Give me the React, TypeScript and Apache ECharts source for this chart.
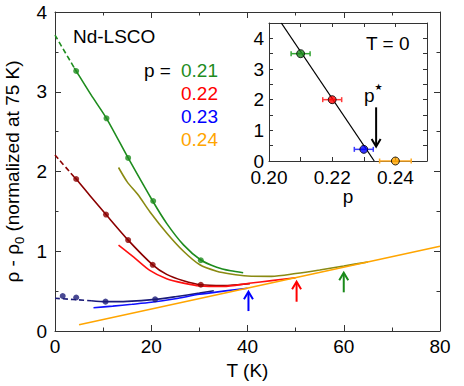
import React, { useEffect, useRef } from 'react';
import * as echarts from 'echarts';

const FONT = '"Liberation Sans", Arial, Helvetica, sans-serif';
const FS = 19;

// ---- main panel data: T (K) vs normalized rho - rho0 ----
const ext021: [number, number][] = [[0, 3.71], [4, 3.3]];
const fit021: [number, number][] = [[4, 3.3], [4.4, 3.26], [7.5, 2.96], [10.7, 2.667], [15.2, 2.17], [20.3, 1.63], [23.2, 1.35], [26.7, 1.08], [30.3, 0.89], [33.6, 0.8], [36.5, 0.755], [39.1, 0.73]];
const dots021: [number, number][] = [[4.4, 3.26], [10.7, 2.667], [15.2, 2.17], [20.4, 1.63], [30.3, 0.887]];
const alt021: [number, number][] = [[13.2, 2.05], [15, 1.87], [17.3, 1.705], [19.7, 1.496], [23.2, 1.23], [26.7, 1.0], [30.1, 0.83], [33.6, 0.75], [36.5, 0.715], [40, 0.69], [45, 0.685], [50, 0.72], [55, 0.765], [60, 0.815], [65, 0.866]];

const ext022: [number, number][] = [[0, 2.207], [4, 1.93]];
const fit022: [number, number][] = [[4, 1.93], [4.4, 1.906], [7.5, 1.68], [10.6, 1.46], [15.2, 1.14], [20.3, 0.83], [23.2, 0.71], [26.7, 0.63], [30.3, 0.58], [35, 0.57], [40.5, 0.592]];
const dots022: [number, number][] = [[4.4, 1.906], [10.6, 1.46], [15.2, 1.14], [20.3, 0.83], [30.3, 0.58]];
const alt022: [number, number][] = [[13.2, 1.078], [16.3, 0.93], [19.7, 0.76], [23.2, 0.655], [26.7, 0.6], [30.1, 0.565], [35, 0.558], [40.3, 0.598], [45, 0.632], [50, 0.668]];

const ext023: [number, number][] = [[0, 0.41], [7.5, 0.38]];
const fit023: [number, number][] = [[7.5, 0.38], [10.5, 0.368], [15, 0.372], [20.8, 0.397], [25, 0.43], [30, 0.475], [33, 0.505]];
const dots023: [number, number][] = [[1.6, 0.439], [4.4, 0.42], [10.5, 0.368], [20.8, 0.397]];
const alt023: [number, number][] = [[8, 0.292], [12, 0.312], [16, 0.335], [20, 0.36], [25, 0.405], [30, 0.46], [35, 0.5], [40, 0.537]];

const fit024: [number, number][] = [[5, 0.079], [80, 1.062]];

// arrows marking where curves merge: [T, tail, tip]
const mergeArrows: [number, number, number][] = [[40.2, 0.25, 0.493], [50.2, 0.367, 0.618], [60, 0.485, 0.731]];

// ---- inset data ----
const dopings = [0.21, 0.22, 0.23, 0.24];
const zeroTValues = [3.5, 2.0, 0.38, 0];
const dopingErr = [0.003, 0.003, 0.003, 0.005];
const trendLine: [number, number][] = [[0.2039, 4.5], [0.2333, 0]];
const pStarArrow: [number, number, number][] = [[0.2339, 1.75, 0.47]];

const legendLabels = ['0.21', '0.22', '0.23', '0.24'];

// ---- colours ----
const C_GREEN = '#1e8c1e';
const C_OLIVE = '#8a8a12';
const C_DRED = '#8b0000';
const C_RED = '#ff1010';
const C_NAVY = '#1c1c78';
const C_BLUE = '#1010ff';
const C_ORANGE = '#ffa500';
const legendColors = [C_GREEN, '#ff0000', '#0000ff', C_ORANGE];
const insetColors = ['#1a8a1a', '#ff0000', '#0000ff', '#ffa500'];
const errColors = ['#35a535', '#ff3a3a', '#3a3aff', '#ffaa22'];
const arrowColors = ['#0000ff', '#ff0000', '#1a8a1a'];
const AX = '#333';

const arrowRender = (colors: string[], w: number) => (params: any, api: any) => {
  const x = api.value(0), y0 = api.value(1), y1 = api.value(2);
  const a = api.coord([x, y0]);
  const b = api.coord([x, y1]);
  const sgn = a[1] > b[1] ? 1 : -1;
  const c = colors[params.dataIndex % colors.length];
  return {
    type: 'group',
    children: [
      { type: 'line', shape: { x1: a[0], y1: a[1], x2: b[0], y2: b[1] + sgn }, style: { stroke: c, lineWidth: w } },
      { type: 'polyline', shape: { points: [[b[0] - 4.5, b[1] + 7.5 * sgn], [b[0], b[1]], [b[0] + 4.5, b[1] + 7.5 * sgn]] }, style: { stroke: c, lineWidth: w, fill: null } },
    ],
  };
};

const errRender = (params: any, api: any) => {
  const p = api.value(0), y = api.value(1), e = api.value(2);
  const l = api.coord([p - e, y]);
  const r = api.coord([p + e, y]);
  const c = errColors[params.dataIndex];
  const st = { stroke: c, lineWidth: 1.5 };
  return {
    type: 'group',
    children: [
      { type: 'line', shape: { x1: l[0], y1: l[1], x2: r[0], y2: r[1] }, style: st },
      { type: 'line', shape: { x1: l[0], y1: l[1] - 2.5, x2: l[0], y2: l[1] + 2.5 }, style: st },
      { type: 'line', shape: { x1: r[0], y1: r[1] - 2.5, x2: r[0], y2: r[1] + 2.5 }, style: st },
    ],
  };
};

const labelStyle = { fontSize: FS, fontFamily: FONT, color: '#000' };
const lineStyleAx = { color: AX, width: 1 };

function boxAxis(extra: any) {
  return {
    type: 'value',
    axisLine: { show: true, onZero: false, lineStyle: lineStyleAx },
    splitLine: { show: false },
    ...extra,
  };
}

function lineSeries(data: [number, number][], color: string, dashed = false, xi = 0, yi = 0) {
  return {
    type: 'line',
    xAxisIndex: xi,
    yAxisIndex: yi,
    data,
    showSymbol: false,
    symbol: 'none',
    smooth: 0.25,
    lineStyle: { color, width: 1.6, type: dashed ? [5, 3] : 'solid' },
    z: 2,
  };
}

function dotSeries(data: [number, number][], color: string) {
  return {
    type: 'scatter',
    xAxisIndex: 0,
    yAxisIndex: 0,
    data,
    symbolSize: 6,
    itemStyle: { color },
    z: 4,
  };
}

const txt = (x: number, y: number, text: string, fill = '#000', extra: any = {}) => ({
  type: 'text', x, y,
  style: { text, fontSize: FS, fontFamily: FONT, fill, align: 'left', verticalAlign: 'middle', textAlign: 'left', textVerticalAlign: 'middle', ...extra },
});

export default function App() {
  const ref = useRef<HTMLDivElement>(null);
  useEffect(() => {
    const chart = echarts.init(ref.current!, null, { renderer: 'svg' });
    const option: any = {
      animation: false,
      grid: [
        { left: 55, top: 12, right: 24, bottom: 55, outerBoundsMode: 'none', containLabel: false },
        { left: 269, top: 23, right: 37, bottom: 225, outerBoundsMode: 'none', containLabel: false },
      ],
      xAxis: [
        boxAxis({
          gridIndex: 0, min: 0, max: 80, interval: 20, position: 'bottom',
          axisTick: { inside: true, length: 6, lineStyle: lineStyleAx },
          minorTick: { show: true, splitNumber: 2, length: 3.5, lineStyle: lineStyleAx },
          axisLabel: { ...labelStyle, margin: 6 },
          name: 'T (K)', nameLocation: 'middle', nameGap: 28,
          nameTextStyle: { ...labelStyle },
        }),
        boxAxis({
          gridIndex: 0, min: 0, max: 80, interval: 20, position: 'top',
          axisTick: { inside: true, length: 6, lineStyle: lineStyleAx },
          minorTick: { show: true, splitNumber: 2, length: 3.5, lineStyle: lineStyleAx },
          axisLabel: { show: false },
        }),
        boxAxis({
          gridIndex: 1, min: 0.2, max: 0.25, interval: 0.01, position: 'bottom',
          axisTick: { inside: true, length: 4, lineStyle: lineStyleAx },
          axisLabel: {
            ...labelStyle, margin: 9, lineHeight: 14,
            formatter: (v: number) => {
              const k = Math.round(v * 100);
              return k % 2 === 0 && k <= 24 ? (k / 100).toFixed(2) : '';
            },
          },
          name: 'p', nameLocation: 'middle', nameGap: 26,
          nameTextStyle: { ...labelStyle },
        }),
        boxAxis({
          gridIndex: 1, min: 0.2, max: 0.25, interval: 0.01, position: 'top',
          axisTick: { inside: true, length: 4, lineStyle: lineStyleAx },
          axisLabel: { show: false },
        }),
      ],
      yAxis: [
        boxAxis({
          gridIndex: 0, min: 0, max: 4, interval: 1, position: 'left',
          axisTick: { inside: true, length: 6, lineStyle: lineStyleAx },
          minorTick: { show: true, splitNumber: 2, length: 3.5, lineStyle: lineStyleAx },
          axisLabel: { ...labelStyle, margin: 8 },
          name: '{a|ρ - ρ}{s|0}{a| (normalized at 75 K)}',
          nameLocation: 'middle', nameGap: 22,
          nameTextStyle: {
            rich: {
              a: { fontSize: FS, fontFamily: FONT, color: '#000', lineHeight: 26, verticalAlign: 'middle' },
              s: { fontSize: 13, fontFamily: FONT, color: '#000', lineHeight: 16, verticalAlign: 'bottom' },
            },
          },
        }),
        boxAxis({
          gridIndex: 0, min: 0, max: 4, interval: 1, position: 'right',
          axisTick: { inside: true, length: 6, lineStyle: lineStyleAx },
          minorTick: { show: true, splitNumber: 2, length: 3.5, lineStyle: lineStyleAx },
          axisLabel: { show: false },
        }),
        boxAxis({
          gridIndex: 1, min: 0, max: 4.5, interval: 0.5, position: 'left',
          axisTick: { inside: true, length: 4, lineStyle: lineStyleAx },
          axisLabel: {
            ...labelStyle, margin: 5, lineHeight: 14,
            formatter: (v: number) => (Math.abs(v - Math.round(v)) < 1e-6 ? String(Math.round(v)) : ''),
          },
        }),
        boxAxis({
          gridIndex: 1, min: 0, max: 4.5, interval: 0.5, position: 'right',
          axisTick: { inside: true, length: 4, lineStyle: lineStyleAx },
          axisLabel: { show: false },
        }),
      ],
      series: [
        lineSeries(alt021, C_OLIVE),
        lineSeries(ext023, C_NAVY, true),
        lineSeries(fit023, C_NAVY),
        lineSeries(alt023, C_BLUE),
        lineSeries(ext022, C_DRED, true),
        lineSeries(fit022, C_DRED),
        lineSeries(alt022, C_RED),
        lineSeries(ext021, C_GREEN, true),
        lineSeries(fit021, C_GREEN),
        lineSeries(fit024, C_ORANGE),
        dotSeries(dots021, C_GREEN),
        dotSeries(dots022, C_DRED),
        dotSeries(dots023, C_NAVY),
        {
          type: 'custom', xAxisIndex: 0, yAxisIndex: 0,
          data: mergeArrows, encode: { x: 0, y: [1, 2] },
          renderItem: arrowRender(arrowColors, 2), z: 5,
        },
        // inset
        {
          type: 'line', xAxisIndex: 2, yAxisIndex: 2, data: trendLine,
          symbol: 'none', lineStyle: { color: '#000', width: 1.3 }, z: 2,
        },
        {
          type: 'custom', xAxisIndex: 2, yAxisIndex: 2,
          data: dopings.map((p, i) => [p, zeroTValues[i], dopingErr[i]]),
          encode: { x: 0, y: 1 }, renderItem: errRender, z: 3,
        },
        {
          type: 'scatter', xAxisIndex: 2, yAxisIndex: 2, clip: false,
          data: dopings.map((p, i) => ({ value: [p, zeroTValues[i]], itemStyle: { color: insetColors[i] } })),
          symbolSize: 8, itemStyle: { borderColor: '#000', borderWidth: 1 }, z: 4,
        },
        {
          type: 'custom', xAxisIndex: 2, yAxisIndex: 2,
          data: pStarArrow, encode: { x: 0, y: [1, 2] },
          renderItem: arrowRender(['#000'], 2), z: 5,
        },
      ],
      graphic: [
        txt(73, 36, 'Nd-LSCO'),
        txt(144, 70.7, 'p ='),
        ...legendLabels.map((t, i) => txt(181, [70.7, 93.5, 116.3, 139][i], t, legendColors[i])),
        txt(366, 43.3, 'T = 0'),
        txt(364, 95.4, '{a|p}{s|★}', '#000', {
          rich: {
            a: { fontSize: FS, fontFamily: FONT, fill: '#000', lineHeight: 26, verticalAlign: 'middle' },
            s: { fontSize: 9, fontFamily: '"DejaVu Sans", sans-serif', fill: '#000', lineHeight: 8, verticalAlign: 'top' },
          },
        }),
      ],
    };
    chart.setOption(option);
    return () => chart.dispose();
  }, []);
  return <div ref={ref} style={{ position: 'absolute', left: 0, top: 0, width: 464, height: 386 }} />;
}
